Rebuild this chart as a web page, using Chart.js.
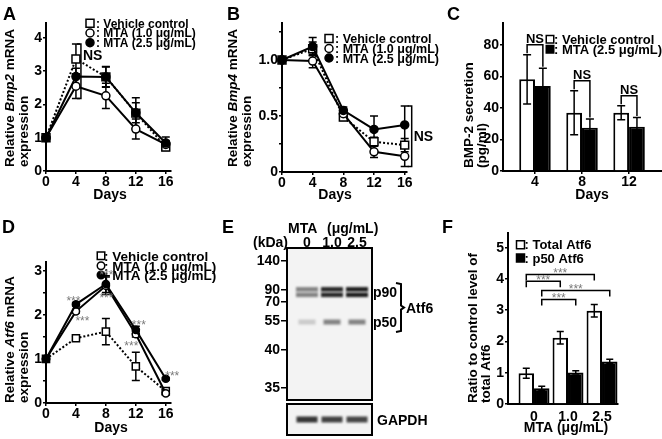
<!DOCTYPE html>
<html>
<head>
<meta charset="utf-8">
<title>Bmp2, Bmp4 and Atf6 after MTA</title>
<script src="https://cdn.jsdelivr.net/npm/chart.js@4.4.1/dist/chart.umd.min.js"></script>
<style>
  body { margin: 0; background: #fff; }
  #fig { position: relative; width: 662px; height: 439px; overflow: hidden; }
  #fig canvas { position: absolute; }
</style>
</head>
<body>
<div id="fig">
  <canvas id="chartA" width="220" height="215" style="left:0px;top:0px"></canvas>
  <canvas id="chartB" width="220" height="215" style="left:220px;top:0px"></canvas>
  <canvas id="chartC" width="222" height="215" style="left:440px;top:0px"></canvas>
  <canvas id="chartD" width="220" height="224" style="left:0px;top:215px"></canvas>
  <canvas id="chartE" width="220" height="224" style="left:220px;top:215px"></canvas>
  <canvas id="chartF" width="222" height="224" style="left:440px;top:215px"></canvas>
</div>
<script>
// ---- data ----
const days = [0, 4, 8, 12, 16];

// A: Bmp2 mRNA
const bmp2Vehicle = [1, 3.37, 2.83, 1.74, 0.72];
const bmp2VehicleErr = [0, 0.45, 0.3, 0.46, 0.1];
const bmp2Mta1 = [1, 2.55, 2.26, 1.26, 0.8];
const bmp2Mta1Err = [0, 0.37, 0.38, 0.3, 0.12];
const bmp2Mta25 = [1, 2.84, 2.83, 1.75, 0.84];
const bmp2Mta25Err = [0, 0.25, 0.31, 0.3, 0.18];

// B: Bmp4 mRNA
const bmp4Vehicle = [1, 1.1, 0.49, 0.27, 0.24];
const bmp4VehicleErr = [0, 0.06, 0.03, 0.04, 0.06];
const bmp4Mta1 = [1, 0.99, 0.52, 0.18, 0.14];
const bmp4Mta1Err = [0, 0.06, 0.03, 0.05, 0.09];
const bmp4Mta25 = [1, 1.12, 0.55, 0.38, 0.42];
const bmp4Mta25Err = [0, 0.08, 0.03, 0.12, 0.17];

// C: BMP-2 secretion
const secretionDays = [4, 8, 12];
const bmp2SecVehicle = [58.2, 37, 37];
const bmp2SecVehicleErr = [15.6, 14, 4.5];
const bmp2SecMta = [54, 27.5, 28.1];
const bmp2SecMtaErr = [11.2, 5.5, 5.9];

// D: Atf6 mRNA
const atf6Vehicle = [1, 1.47, 1.62, 0.83, 0.27];
const atf6VehicleErr = [0, 0.04, 0.3, 0.32, 0.03];
const atf6Mta1 = [1, 2.08, 2.66, 1.56, 0.22];
const atf6Mta1Err = [0, 0.04, 0.2, 0.06, 0.03];
const atf6Mta25 = [1, 2.24, 2.7, 1.66, 0.55];
const atf6Mta25Err = [0, 0.04, 0.19, 0.08, 0.03];

// E: western blot (relative mobility of markers and bands, band density 0-1)
const laneLabels = ['0', '1.0', '2.5'];
const markerKDa = [140, 90, 70, 55, 40, 35];
const markerRf = [0.086, 0.276, 0.355, 0.48, 0.671, 0.921];
const p90Rf = 0.29;
const p50Rf = 0.487;
const p90Density = [0.5, 0.92, 0.97];
const p50Density = [0.18, 0.5, 0.5];
const gapdhDensity = [0.85, 0.8, 0.78];

// F: Atf6 protein
const mtaDoses = ['0', '1.0', '2.5'];
const totalAtf6 = [0.98, 2.12, 2.98];
const totalAtf6Err = [0.16, 0.2, 0.2];
const p50Atf6 = [0.5, 1.01, 1.36];
const p50Atf6Err = [0.07, 0.05, 0.07];

// tick labels
const dayTicks = [0, 4, 8, 12, 16];
const bmp2Ticks = [0, 1, 2, 3, 4];
const bmp4Ticks = [0, 0.25, 0.5, 0.75, 1, 1.25];
const bmp4TickLabels = ['0', '', '0.5', '', '1.0', ''];
const secretionTicks = [0, 20, 40, 60, 80];
const atf6Ticks = [0, 0.5, 1, 1.5, 2, 2.5, 3];
const atf6TickLabels = ['0', '', '1', '', '2', '', '3'];
const ratioTicks = [0, 1, 2, 3, 4, 5];

// ---- helpers ----
const FONT = '"Liberation Sans", Arial, Helvetica, sans-serif';

function font(size, italic, light) {
  return (italic ? 'italic ' : '') + (light ? '' : 'bold ') + size + 'px ' + FONT;
}

// pins the plot area to a box given in page pixels
function frame(origin, box, size) {
  return {
    origin: origin,
    padding: { left: 0, top: box[1] - origin[1], right: origin[0] + size[0] - box[2], bottom: 0 },
    yWidth: box[0] - origin[0],
    xHeight: origin[1] + size[1] - box[3]
  };
}

function axis(o) {
  const tl = o.tickLength === undefined ? 3 : o.tickLength;
  return {
    type: 'linear', min: o.min, max: o.max, offset: false,
    border: { color: '#000', width: 2 },
    grid: { offset: false, drawOnChartArea: false, color: '#000', lineWidth: 1.5, drawTicks: tl > 0, tickLength: tl },
    ticks: {
      color: '#000', font: { family: FONT, size: 14, weight: 'bold', lineHeight: 1 },
      padding: o.pad === undefined ? 1 : o.pad, autoSkip: false, maxRotation: 0,
      callback: (v, i) => o.labels[i]
    },
    afterBuildTicks: s => { s.ticks = o.ticks.map(v => ({ value: v })); },
    afterFit: o.fit
  };
}

function options(fr, x, y) {
  return {
    responsive: false, animation: false, events: [],
    layout: { padding: fr.padding },
    plugins: { legend: { display: false }, tooltip: { enabled: false } },
    scales: {
      x: axis(Object.assign({ fit: s => { s.height = fr.xHeight; } }, x)),
      y: axis(Object.assign({ fit: s => { s.width = fr.yWidth; } }, y))
    }
  };
}

function series(values, errs, kind, r) {
  return {
    data: days.map((d, i) => ({ x: d, y: values[i] })),
    errors: errs,
    borderColor: '#000', borderWidth: 2,
    borderDash: kind === 'so' ? [2, 2] : [],
    pointStyle: kind[0] === 's' ? 'rect' : 'circle',
    pointRadius: kind[0] === 's' ? r * 1.4 : r,
    pointBackgroundColor: kind[1] === 'f' ? '#000' : '#fff',
    pointBorderColor: '#000', pointBorderWidth: 1.5,
    clip: false, cap: 4
  };
}

function bars(xs, values, errs, fill, pct, cap) {
  return {
    data: xs.map((x, i) => ({ x: x, y: values[i] })),
    errors: errs, backgroundColor: fill, borderColor: '#000', borderWidth: 2,
    categoryPercentage: pct, barPercentage: 1, cap: cap
  };
}

function drawErrors(chart) {
  const ctx = chart.ctx, ys = chart.scales.y;
  ctx.save();
  ctx.strokeStyle = '#000';
  ctx.lineWidth = 1.5;
  chart.data.datasets.forEach((ds, di) => {
    chart.getDatasetMeta(di).data.forEach((el, i) => {
      const v = ds.data[i].y, e = ds.errors[i];
      if (!e) return;
      const top = ys.getPixelForValue(v + e), bot = ys.getPixelForValue(v - e), c = ds.cap;
      ctx.beginPath();
      ctx.moveTo(el.x, top); ctx.lineTo(el.x, bot);
      ctx.moveTo(el.x - c, top); ctx.lineTo(el.x + c, top);
      ctx.moveTo(el.x - c, bot); ctx.lineTo(el.x + c, bot);
      ctx.stroke();
    });
  });
  ctx.restore();
}

const errorBars = {
  id: 'errorBars',
  beforeDatasetsDraw(chart) { if (chart.config.type === 'line') drawErrors(chart); },
  afterDatasetsDraw(chart) { if (chart.config.type === 'bar') drawErrors(chart); }
};

// extra drawing in page coordinates
function decor(fr, draw) {
  return {
    id: 'decor',
    afterDraw(chart) {
      const ctx = chart.ctx, ox = fr.origin[0], oy = fr.origin[1];
      ctx.save();
      ctx.translate(-ox, -oy);
      ctx.fillStyle = '#000';
      ctx.strokeStyle = '#000';
      const X = v => chart.scales.x.getPixelForValue(v) + ox;
      const Y = v => chart.scales.y.getPixelForValue(v) + oy;
      const el = (d, i) => chart.getDatasetMeta(d).data[i];
      draw(ctx, chart, X, Y, el, ox, oy);
      ctx.restore();
    }
  };
}

function rich(ctx, parts, x, y, size) {
  let cx = x;
  ctx.textAlign = 'left';
  ctx.textBaseline = 'alphabetic';
  parts.forEach(p => {
    ctx.font = font(size, p[1]);
    ctx.fillText(p[0], cx, y);
    cx += ctx.measureText(p[0]).width;
  });
}

function yTitle(ctx, lines, baselines, yBottom, size) {
  lines.forEach((parts, i) => {
    ctx.save();
    ctx.translate(baselines[i], yBottom);
    ctx.rotate(-Math.PI / 2);
    rich(ctx, parts, 0, 0, size);
    ctx.restore();
  });
}

function text(ctx, t, x, y, size, align) {
  ctx.font = font(size);
  ctx.textAlign = align || 'left';
  ctx.textBaseline = 'alphabetic';
  ctx.fillText(t, x, y);
}

function letter(ctx, t, x, y) { text(ctx, t, x, y, 18); }

function marker(ctx, kind, x, y, s) {
  ctx.save();
  ctx.lineWidth = 1.5;
  ctx.fillStyle = kind[1] === 'f' ? '#000' : '#fff';
  ctx.beginPath();
  if (kind[0] === 's') ctx.rect(x - s / 2, y - s / 2, s, s);
  else ctx.arc(x, y, s / 2, 0, Math.PI * 2);
  ctx.fill();
  ctx.stroke();
  ctx.restore();
}

function legend(ctx, items, mx, tx, ys, size, ms) {
  items.forEach((it, i) => {
    marker(ctx, it[0], mx, ys[i], ms);
    text(ctx, ': ' + it[1], tx, ys[i] + size * 0.36, size);
  });
}

function stars(ctx, x, cy, size) {
  ctx.save();
  ctx.fillStyle = '#7a7a7a';
  ctx.font = font(size, false, true);
  ctx.textAlign = 'center';
  ctx.textBaseline = 'alphabetic';
  ctx.fillText('***', x, cy + size * 0.57);
  ctx.restore();
}

// NS bracket spanning all series at one day
function spanNS(ctx, chart, X, Y, idx, dx, labelY) {
  let hi = -Infinity, lo = Infinity;
  chart.data.datasets.forEach(ds => {
    hi = Math.max(hi, ds.data[idx].y + ds.errors[idx]);
    lo = Math.min(lo, ds.data[idx].y - ds.errors[idx]);
  });
  const x = X(days[idx]) + dx, t = Y(hi), b = Y(lo);
  ctx.lineWidth = 1.5;
  ctx.beginPath();
  ctx.moveTo(x - 4, t); ctx.lineTo(x, t); ctx.lineTo(x, b); ctx.lineTo(x - 4, b);
  ctx.stroke();
  text(ctx, 'NS', x + 2, labelY(t, b), 14);
}

const mtaLegend = [['so', 'Vehicle control'], ['co', 'MTA (1.0 \u03bcg/mL)'], ['cf', 'MTA (2.5 \u03bcg/mL)']];

// ---- A ----
const frA = frame([0, 0], [46, 23, 171, 171], [220, 215]);
new Chart(document.getElementById('chartA'), {
  type: 'line',
  data: { datasets: [
    series(bmp2Mta25, bmp2Mta25Err, 'cf', 4),
    series(bmp2Mta1, bmp2Mta1Err, 'co', 4),
    series(bmp2Vehicle, bmp2VehicleErr, 'so', 4)
  ] },
  options: options(frA,
    { min: 0, max: 16.7, ticks: dayTicks, labels: dayTicks.map(String) },
    { min: 0, max: 4.45, ticks: bmp2Ticks, labels: bmp2Ticks.map(String) }),
  plugins: [errorBars, decor(frA, (ctx, chart, X, Y) => {
    letter(ctx, 'A', 3, 20);
    yTitle(ctx, [[['Relative '], ['Bmp2', true], [' mRNA']], [['expression']]], [14, 28], 167, 13.5);
    text(ctx, 'Days', 110, 199, 14, 'center');
    legend(ctx, mtaLegend, 90, 96, [23.3, 33, 42.7], 12, 8);
    spanNS(ctx, chart, X, Y, 1, 5, (t, b) => t + 16);
  })]
});

// ---- B ----
const frB = frame([220, 0], [282, 23, 407, 172], [220, 215]);
new Chart(document.getElementById('chartB'), {
  type: 'line',
  data: { datasets: [
    series(bmp4Mta25, bmp4Mta25Err, 'cf', 4),
    series(bmp4Mta1, bmp4Mta1Err, 'co', 4),
    series(bmp4Vehicle, bmp4VehicleErr, 'so', 4)
  ] },
  options: options(frB,
    { min: 0, max: 16.3, ticks: dayTicks, labels: dayTicks.map(String) },
    { min: 0, max: 1.33, ticks: bmp4Ticks, labels: bmp4TickLabels }),
  plugins: [errorBars, decor(frB, (ctx, chart, X, Y) => {
    letter(ctx, 'B', 227, 20);
    yTitle(ctx, [[['Relative '], ['Bmp4', true], [' mRNA']], [['expression']]], [237, 251], 167, 13.5);
    text(ctx, 'Days', 335, 199, 14, 'center');
    legend(ctx, mtaLegend, 329, 335, [38.5, 48.5, 58], 12.5, 8);
    spanNS(ctx, chart, X, Y, 4, 7, (t, b) => (t + b) / 2 + 5);
  })]
});

// ---- C ----
const frC = frame([440, 0], [503, 23, 662, 171], [222, 215]);
new Chart(document.getElementById('chartC'), {
  type: 'bar',
  data: { datasets: [
    bars(secretionDays, bmp2SecVehicle, bmp2SecVehicleErr, '#fff', 0.67, 4),
    bars(secretionDays, bmp2SecMta, bmp2SecMtaErr, '#000', 0.67, 4)
  ] },
  options: options(frC,
    { min: 1.28, max: 14.8, ticks: secretionDays, labels: secretionDays.map(String) },
    { min: 0, max: 94, ticks: secretionTicks, labels: secretionTicks.map(String) }),
  plugins: [errorBars, decor(frC, (ctx, chart, X, Y, el, ox) => {
    letter(ctx, 'C', 447, 20);
    yTitle(ctx, [[['BMP-2 secretion']], [['(pg/ml)']]], [473, 486], 168, 13.5);
    text(ctx, 'Days', 592, 199, 14, 'center');
    legend(ctx, [['so', 'Vehicle control'], ['sf', 'MTA (2.5 \u03bcg/mL)']], 550, 554, [39.3, 49.3], 13, 7.5);
    secretionDays.forEach((d, i) => {
      const xa = el(0, i).x + ox, xb = el(1, i).x + ox;
      const ya = Y(bmp2SecVehicle[i] + bmp2SecVehicleErr[i]) - 1.5;
      const yb = Y(bmp2SecMta[i] + bmp2SecMtaErr[i]) - 1.5;
      const top = Math.min(ya, yb) - 8.5;
      ctx.lineWidth = 1.5;
      ctx.beginPath();
      ctx.moveTo(xa, ya); ctx.lineTo(xa, top); ctx.lineTo(xb, top); ctx.lineTo(xb, yb);
      ctx.stroke();
      text(ctx, 'NS', (xa + xb) / 2, top - 1.5, 13, 'center');
    });
  })]
});

// ---- D ----
const frD = frame([0, 215], [46, 262, 171, 403], [220, 224]);
new Chart(document.getElementById('chartD'), {
  type: 'line',
  data: { datasets: [
    series(atf6Mta25, atf6Mta25Err, 'cf', 3.6),
    series(atf6Mta1, atf6Mta1Err, 'co', 3.6),
    series(atf6Vehicle, atf6VehicleErr, 'so', 3.6)
  ] },
  options: options(frD,
    { min: 0, max: 16.7, ticks: dayTicks, labels: dayTicks.map(String) },
    { min: 0, max: 3.2, ticks: atf6Ticks, labels: atf6TickLabels }),
  plugins: [errorBars, decor(frD, (ctx, chart, X, Y) => {
    letter(ctx, 'D', 2, 233);
    yTitle(ctx, [[['Relative '], ['Atf6', true], [' mRNA']], [['expression']]], [14, 28], 403, 13.5);
    text(ctx, 'Days', 111, 432, 14, 'center');
    legend(ctx, mtaLegend, 101, 104, [255.7, 265.7, 275], 13.5, 7.5);
    // significance marks vs vehicle: [dataset, day index, dx, dy]
    [[0, 1, -2.5, -6], [1, 1, 6.5, 7], [0, 2, 0.5, -12], [1, 2, 0.5, 9],
     [0, 3, 3, -8], [1, 3, -4.5, 8.6], [0, 4, 6.5, -6]].forEach(s => {
      const ds = chart.data.datasets[s[0]];
      stars(ctx, X(days[s[1]]) + s[2], Y(ds.data[s[1]].y) + s[3], 12);
    });
  })]
});

// ---- E ----
function band(ctx, x, y, w, h, d, doublet) {
  ctx.save();
  ctx.filter = 'blur(1px)';
  ctx.fillStyle = 'rgba(20,20,20,' + d + ')';
  if (doublet) {
    ctx.fillRect(x - w / 2, y - 5, w, 4.5);
    ctx.fillRect(x - w / 2, y + 0.5, w, 4.5);
  } else {
    ctx.fillRect(x - w / 2, y - h / 2, w, h);
  }
  ctx.restore();
}

const blot = {
  id: 'blot',
  beforeDatasetsDraw(chart) {
    const ctx = chart.ctx, a = chart.chartArea, xs = chart.scales.x;
    const gTop = a.bottom + 4, gBot = a.bottom + 35;
    ctx.save();
    ctx.fillStyle = '#f3f3f3';
    ctx.fillRect(a.left, a.top, a.width, a.height);
    ctx.fillRect(a.left, gTop, a.width, gBot - gTop);
    chart.data.datasets.forEach((ds, di) => {
      chart.getDatasetMeta(di).data.forEach((el, i) => {
        band(ctx, el.x, el.y, ds.bandW, ds.bandH, ds.density[i], ds.doublet);
      });
    });
    gapdhDensity.forEach((d, i) => band(ctx, xs.getPixelForValue(i), (gTop + gBot) / 2, 21, 6, d, false));
    ctx.lineWidth = 2;
    ctx.strokeStyle = '#000';
    ctx.strokeRect(a.left, a.top, a.width, a.height);
    ctx.strokeRect(a.left, gTop, a.width, gBot - gTop);
    ctx.restore();
  }
};

const frE = { origin: [220, 215] };
const tickFont = { family: FONT, size: 14, weight: 'bold', lineHeight: 1 };
new Chart(document.getElementById('chartE'), {
  type: 'scatter',
  data: { datasets: [
    { data: laneLabels.map((l, i) => ({ x: i, y: p90Rf })), density: p90Density, bandW: 22, bandH: 10, doublet: true, pointRadius: 0 },
    { data: laneLabels.map((l, i) => ({ x: i, y: p50Rf })), density: p50Density, bandW: 17, bandH: 5, doublet: false, pointRadius: 0 }
  ] },
  options: {
    responsive: false, animation: false, events: [],
    layout: { padding: { left: 0, top: 14, right: 68, bottom: 39 } },
    plugins: { legend: { display: false }, tooltip: { enabled: false } },
    scales: {
      x: {
        type: 'linear', position: 'top', min: -0.8, max: 2.6,
        border: { display: false }, grid: { display: false, drawTicks: false },
        ticks: { color: '#000', font: tickFont, padding: -2, autoSkip: false, maxRotation: 0, callback: (v, i) => laneLabels[i] },
        afterBuildTicks: s => { s.ticks = laneLabels.map((l, i) => ({ value: i })); },
        afterFit: s => { s.height = 19; }
      },
      y: {
        type: 'linear', reverse: true, min: 0, max: 1,
        border: { display: false },
        grid: { drawOnChartArea: false, color: '#000', lineWidth: 1.5, tickLength: 6 },
        ticks: { color: '#000', font: tickFont, padding: 1, autoSkip: false, callback: (v, i) => String(markerKDa[i]) },
        afterBuildTicks: s => { s.ticks = markerRf.map(v => ({ value: v })); },
        afterFit: s => { s.width = 67; }
      }
    }
  },
  plugins: [blot, decor(frE, (ctx, chart, X, Y) => {
    letter(ctx, 'E', 222, 233);
    text(ctx, 'MTA', 288, 233, 14);
    text(ctx, '(\u03bcg/mL)', 327, 233, 14);
    text(ctx, '(kDa)', 253, 247, 14);
    const y90 = Y(p90Rf), y50 = Y(p50Rf);
    text(ctx, 'p90', 373, y90 + 5, 14);
    text(ctx, 'p50', 373, y50 + 5, 14);
    const top = y90 - 9, bot = y50 + 10, mid = (top + bot) / 2, bx = 401;
    ctx.lineWidth = 2;
    ctx.beginPath();
    ctx.moveTo(bx - 5, top); ctx.lineTo(bx, top + 1); ctx.lineTo(bx, mid - 2); ctx.lineTo(bx + 3, mid);
    ctx.lineTo(bx, mid + 2); ctx.lineTo(bx, bot - 1); ctx.lineTo(bx - 5, bot);
    ctx.stroke();
    text(ctx, 'Atf6', 406, mid + 5, 14);
    text(ctx, 'GAPDH', 377, 425, 14);
  })]
});

// ---- F ----
const doseIndex = mtaDoses.map((d, i) => i);
const frF = frame([440, 215], [508, 233, 618, 404], [222, 224]);
new Chart(document.getElementById('chartF'), {
  type: 'bar',
  data: { datasets: [
    bars(doseIndex, totalAtf6, totalAtf6Err, '#fff', 0.91, 3.5),
    bars(doseIndex, p50Atf6, p50Atf6Err, '#000', 0.91, 3.5)
  ] },
  options: options(frF,
    { min: -0.765, max: 2.47, ticks: doseIndex, labels: mtaDoses, tickLength: 0, pad: 6 },
    { min: 0, max: 5.47, ticks: ratioTicks, labels: ratioTicks.map(String) }),
  plugins: [errorBars, decor(frF, (ctx, chart, X, Y, el, ox) => {
    letter(ctx, 'F', 442, 233);
    yTitle(ctx, [[['Ratio to control level of']], [['total Atf6']]], [477, 490], 403, 13.5);
    text(ctx, 'MTA (\u03bcg/mL)', 566, 432, 14, 'center');
    legend(ctx, [['so', 'Total Atf6'], ['sf', 'p50 Atf6']], 520.5, 524.5, [244.7, 258], 13, 8);
    // [dataset, dose, dataset, dose] with bracket height in ratio units
    const comparisons = [[0, 0, 0, 2, 4.14], [0, 0, 0, 1, 3.93], [1, 0, 1, 2, 3.63], [1, 0, 1, 1, 3.34]];
    comparisons.forEach(c => {
      const x1 = el(c[0], c[1]).x + ox, x2 = el(c[2], c[3]).x + ox, y = Y(c[4]);
      ctx.lineWidth = 1.5;
      ctx.beginPath();
      ctx.moveTo(x1, y + 6); ctx.lineTo(x1, y); ctx.lineTo(x2, y); ctx.lineTo(x2, y + 6);
      ctx.stroke();
      stars(ctx, (x1 + x2) / 2, y - 4, 12);
    });
  })]
});
</script>
</body>
</html>
